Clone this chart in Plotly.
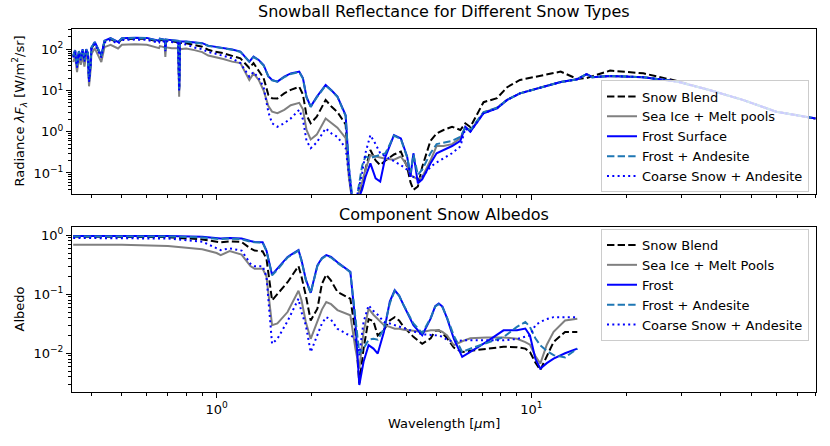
import plotly.graph_objects as go

# ---- top panel: radiance (W/m^2/sr) ----
wl_rad = [0.35, 0.355, 0.36, 0.365, 0.37, 0.375, 0.38, 0.385, 0.39, 0.393,
          0.397, 0.40, 0.41, 0.43, 0.44, 0.46, 0.486, 0.50, 0.55, 0.60,
          0.656, 0.66, 0.684, 0.687, 0.69, 0.72, 0.755, 0.76, 0.765, 0.80,
          0.85, 0.90, 0.94, 0.98, 1.05, 1.12, 1.19, 1.27, 1.31, 1.36,
          1.41, 1.46, 1.50, 1.56, 1.64, 1.72, 1.83, 1.88, 1.93, 1.99,
          2.08, 2.22, 2.32, 2.42, 2.57, 2.63, 2.70, 2.80, 2.90, 2.97,
          3.08, 3.20, 3.31, 3.44, 3.66, 3.85, 4.03, 4.13, 4.22, 4.36,
          4.50, 4.78, 5.0, 5.26, 5.6, 5.95, 6.17, 6.4, 7.05, 7.78,
          8.38, 9.2, 10.9, 12.4, 14.0, 15.0, 15.6, 17.8, 22.7, 29,
          36.8, 47, 60, 80]

rad_blend = [66, 90, 38, 85, 57, 95, 52, 95, 76, 17,
             38, 104, 142, 66, 152, 176, 142, 176, 180, 178,
             152, 170, 160, 95, 162, 155, 148, 10.5, 143, 140,
             126, 115, 97, 88, 80, 70, 60, 35, 46, 30,
             20, 7.8, 6.5, 6.4, 8.5, 10.3, 12.3, 8, 2.5, 1.6,
             2.3, 5.9, 4.0, 3.0, 1.5, 0.1, 0.02, 0.02, 0.05, 0.12,
             0.36, 0.2, 0.155, 0.2, 0.28, 0.33, 0.14, 0.06, 0.039, 0.047,
             0.14, 0.6, 0.91, 1.1, 1.32, 1.1, 1.6, 1.3, 5.2, 6.5,
             12, 18, 23, 28.6, 19, 20, 22, 30.3, 26, 17,
             10.3, 5.9, 3.06, 2.1]

rad_seaice = [49, 66, 28, 63, 42, 70, 38, 70, 56, 12.6,
              28, 77, 105, 49, 112, 128, 104, 128, 131, 128,
              106, 119, 111, 65, 111, 105, 105, 7, 100, 104,
              95, 85, 70, 66, 58, 50, 46, 18, 26, 18,
              10, 4.2, 3.06, 2.8, 3.4, 4.4, 5.0, 3.5, 1.1, 0.65,
              0.85, 2.1, 1.6, 1.25, 0.7, 0.08, 0.02, 0.025, 0.06, 0.12,
              0.27, 0.25, 0.23, 0.22, 0.21, 0.25, 0.15, 0.09, 0.08, 0.07,
              0.08, 0.2, 0.45, 0.45, 0.5, 0.7, 1.3, 1.05, 2.9, 3.8,
              5.9, 8.5, 12.3, 16, 18.7, 25, 21, 22.5, 21, 16.4,
              10.3, 5.9, 3.06, 2.1]

rad_frost = [70, 95, 40, 90, 60, 100, 55, 100, 80, 18,
             40, 110, 150, 70, 160, 185, 150, 185, 190, 188,
             160, 180, 170, 100, 172, 165, 160, 11, 155, 153,
             148, 140, 122, 116, 110, 98, 87.5, 50, 66, 55,
             41.5, 22, 18, 16.4, 21.6, 26, 28.6, 20, 7, 4.06,
             7, 13.6, 10, 7.1, 2.5, 0.14, 0.02, 0.02, 0.04, 0.08,
             0.17, 0.074, 0.062, 0.25, 0.83, 0.69, 0.25, 0.08, 0.30, 0.056,
             0.07, 0.17, 0.3, 0.36, 0.45, 0.6, 1.32, 1.0, 2.8, 3.7,
             5.9, 8.5, 12.3, 16, 18.7, 25, 21, 22.5, 21, 16.4,
             10.3, 5.9, 3.06, 2.1]

rad_frost_and = [69, 94, 40, 89, 59, 99, 54, 99, 79, 18,
                 40, 109, 148, 69, 158, 183, 148, 183, 188, 186,
                 158, 178, 168, 99, 170, 163, 158, 11, 153, 151,
                 146, 138, 120, 114, 108, 97, 86, 50, 65, 54,
                 40, 22, 17.5, 16.4, 21, 25, 28, 19.5, 6.8, 4.0,
                 6.8, 13.2, 9.8, 7.0, 2.4, 0.15, 0.025, 0.03, 0.15, 0.25,
                 0.23, 0.25, 0.27, 0.3, 0.8, 0.66, 0.24, 0.1, 0.28, 0.09,
                 0.12, 0.3, 0.5, 0.55, 0.6, 0.75, 1.25, 1.1, 3.0, 3.8,
                 5.9, 8.5, 12.3, 16, 18.7, 25, 21, 22.5, 21, 16.4,
                 10.3, 5.9, 3.06, 2.1]

rad_coarse = [63, 86, 36, 81, 54, 90, 50, 90, 72, 16,
              36, 99, 135, 63, 144, 167, 135, 167, 171, 169,
              144, 162, 152, 90, 155, 148, 142, 10, 138, 130,
              110, 100, 85, 80, 70, 60, 46, 21.6, 28, 20,
              12, 3.0, 1.6, 1.32, 1.6, 2.1, 3.4, 2.0, 0.6, 0.4,
              0.55, 1.2, 0.9, 0.75, 0.4, 0.1, 0.02, 0.03, 0.1, 0.3,
              0.83, 0.5, 0.3, 0.25, 0.19, 0.155, 0.12, 0.09, 0.08, 0.07,
              0.08, 0.14, 0.18, 0.23, 0.3, 0.44, 1.2, 1.0, 2.8, 3.7,
              5.9, 8.5, 12.3, 16, 18.7, 25, 21, 22.5, 21, 16.4,
              10.3, 5.9, 3.06, 2.1]

# ---- bottom panel: component albedos ----
wl_alb = [0.35, 0.5, 0.7, 0.9, 1.0, 1.03, 1.1, 1.2, 1.28, 1.32,
          1.40, 1.44, 1.50, 1.56, 1.68, 1.82, 1.86, 1.92, 1.99, 2.09,
          2.16, 2.23, 2.31, 2.42, 2.60, 2.66, 2.76, 2.84, 2.93, 3.04,
          3.15, 3.25, 3.40, 3.55, 3.68, 3.80, 3.93, 4.22, 4.50, 4.79,
          4.95, 5.08, 5.22, 5.40, 5.67, 6.03, 6.40, 7.20, 8.16, 9.00,
          9.57, 9.90, 10.30, 10.68, 11.20, 11.77, 12.8, 14.0]

alb_blend = [0.95, 0.95, 0.93, 0.85, 0.78, 0.76, 0.79, 0.77, 0.60, 0.55,
             0.535, 0.40, 0.079, 0.10, 0.16, 0.30, 0.2, 0.096, 0.036, 0.057,
             0.15, 0.215, 0.17, 0.11, 0.09, 0.084, 0.023, 0.0031, 0.012, 0.038,
             0.035, 0.020, 0.025, 0.036, 0.041, 0.036, 0.028, 0.019, 0.0145, 0.018,
             0.024, 0.0245, 0.022, 0.018, 0.0125, 0.0105, 0.011, 0.012, 0.0129, 0.0127,
             0.012, 0.0105, 0.007, 0.0052, 0.009, 0.0156, 0.023, 0.023]

alb_seaice = [0.69, 0.69, 0.66, 0.58, 0.50, 0.46, 0.54, 0.47, 0.30, 0.27,
              0.27, 0.20, 0.030, 0.032, 0.05, 0.115, 0.08, 0.034, 0.0176, 0.034,
              0.055, 0.074, 0.068, 0.054, 0.046, 0.044, 0.012, 0.0055, 0.023, 0.057,
              0.045, 0.038, 0.030, 0.028, 0.026, 0.026, 0.025, 0.024, 0.023, 0.0245,
              0.0245, 0.0245, 0.023, 0.02, 0.0137, 0.016, 0.018, 0.0186, 0.0186, 0.0176,
              0.0155, 0.014, 0.009, 0.0067, 0.014, 0.0231, 0.036, 0.0386]

alb_frost = [0.97, 0.98, 0.97, 0.94, 0.91, 0.88, 0.90, 0.88, 0.80, 0.77,
             0.76, 0.55, 0.215, 0.27, 0.43, 0.56, 0.38, 0.18, 0.106, 0.31,
             0.41, 0.46, 0.43, 0.35, 0.27, 0.24, 0.034, 0.0029, 0.0072, 0.0137,
             0.012, 0.0099, 0.023, 0.075, 0.117, 0.095, 0.065, 0.030, 0.0203, 0.039,
             0.063, 0.0695, 0.062, 0.039, 0.0177, 0.0087, 0.0106, 0.0156, 0.0245, 0.0245,
             0.0263, 0.020, 0.0081, 0.0055, 0.0068, 0.0081, 0.010, 0.012]

alb_frost_and = [0.95, 0.96, 0.95, 0.92, 0.89, 0.86, 0.88, 0.86, 0.78, 0.76,
                 0.75, 0.54, 0.21, 0.26, 0.42, 0.55, 0.37, 0.175, 0.104, 0.30,
                 0.40, 0.45, 0.42, 0.34, 0.26, 0.235, 0.04, 0.0099, 0.012, 0.017,
                 0.0177, 0.017, 0.026, 0.07, 0.115, 0.095, 0.065, 0.032, 0.022, 0.04,
                 0.062, 0.068, 0.06, 0.04, 0.02, 0.0105, 0.012, 0.015, 0.0188, 0.028,
                 0.034, 0.028, 0.018, 0.0137, 0.011, 0.0093, 0.0085, 0.012]

alb_coarse = [0.90, 0.90, 0.88, 0.78, 0.60, 0.56, 0.60, 0.55, 0.33, 0.30,
              0.30, 0.20, 0.0145, 0.0176, 0.035, 0.084, 0.05, 0.03, 0.0105, 0.02,
              0.032, 0.041, 0.037, 0.026, 0.021, 0.0203, 0.0177, 0.0093, 0.034, 0.065,
              0.052, 0.045, 0.034, 0.032, 0.030, 0.028, 0.026, 0.023, 0.021, 0.0205,
              0.0203, 0.020, 0.019, 0.017, 0.0156, 0.0166, 0.0166, 0.0166, 0.0166, 0.0175,
              0.0188, 0.020, 0.030, 0.034, 0.038, 0.041, 0.041, 0.041]

for s in (rad_blend, rad_seaice, rad_frost, rad_frost_and, rad_coarse):
    assert len(s) == len(wl_rad)
for s in (alb_blend, alb_seaice, alb_frost, alb_frost_and, alb_coarse):
    assert len(s) == len(wl_alb)

FONT = "DejaVu Sans"
dash = "7.4px,3.2px"
dot = "2px,3.3px"

styles = [
    ("black", dash),
    ("#808080", "solid"),
    ("#0000ff", "solid"),
    ("#1f77b4", dash),
    ("#0000ff", dot),
]

top_names = ["Snow Blend", "Sea Ice + Melt pools", "Frost Surface",
             "Frost + Andesite", "Coarse Snow + Andesite"]
bot_names = ["Snow Blend", "Sea Ice + Melt Pools", "Frost",
             "Frost + Andesite", "Coarse Snow + Andesite"]

top_series = [rad_blend, rad_seaice, rad_frost, rad_frost_and, rad_coarse]
bot_series = [alb_blend, alb_seaice, alb_frost, alb_frost_and, alb_coarse]

fig = go.Figure()

for name, ys, (col, ds) in zip(top_names, top_series, styles):
    fig.add_trace(go.Scatter(x=wl_rad, y=ys, mode="lines", name=name,
                             line=dict(color=col, dash=ds, width=2),
                             xaxis="x", yaxis="y", legend="legend"))

for name, ys, (col, ds) in zip(bot_names, bot_series, styles):
    fig.add_trace(go.Scatter(x=wl_alb, y=ys, mode="lines", name=name,
                             line=dict(color=col, dash=ds, width=2),
                             xaxis="x2", yaxis="y2", legend="legend2"))

# minor tick positions for log axes
def minors(lo, hi):
    return [m * 10 ** e for e in range(lo, hi) for m in range(2, 10)]

sup = {2: "2", 1: "1", 0: "0", -1: "\u22121", -2: "\u22122"}

common_axis = dict(type="log", showgrid=False, zeroline=False,
                   showline=True, linecolor="black", linewidth=1, mirror=True,
                   ticks="outside", ticklen=5, tickwidth=1, tickcolor="black",
                   tickfont=dict(family=FONT, size=13, color="black"))

minor_ticks = dict(ticks="outside", ticklen=3, tickcolor="black", tickwidth=0.8)

xrange_ = [-0.4597, 1.9047]

fig.update_layout(
    width=830, height=446,
    margin=dict(l=72, r=14, t=29, b=54),
    paper_bgcolor="white", plot_bgcolor="white",
    font=dict(family=FONT, size=13, color="black"),
    xaxis=dict(common_axis, domain=[0, 1], anchor="y", range=xrange_,
               showticklabels=False, tickvals=[1, 10],
               minor=dict(minor_ticks, tickvals=minors(-1, 2))),
    yaxis=dict(common_axis, domain=[0.5455, 1], anchor="x", range=[-1.51, 2.49],
               tickvals=[0.1, 1, 10, 100],
               ticktext=["10<sup>%s</sup>" % sup[e] for e in (-1, 0, 1, 2)],
               minor=dict(minor_ticks, tickvals=minors(-2, 3))),
    xaxis2=dict(common_axis, domain=[0, 1], anchor="y2", range=xrange_,
                matches="x", tickvals=[1, 10],
                ticktext=["10<sup>0</sup>", "10<sup>1</sup>"],
                minor=dict(minor_ticks, tickvals=minors(-1, 2))),
    yaxis2=dict(common_axis, domain=[0, 0.4545], anchor="x2", range=[-2.656, 0.14],
                tickvals=[0.01, 0.1, 1],
                ticktext=["10<sup>%s</sup>" % sup[e] for e in (-2, -1, 0)],
                minor=dict(minor_ticks, tickvals=minors(-3, 1))),
    legend=dict(x=0.9906, y=0.7039, xanchor="right", yanchor="middle",
                bgcolor="rgba(255,255,255,0.8)", bordercolor="#cccccc",
                borderwidth=1, font=dict(family=FONT, size=13)),
    legend2=dict(x=0.9906, y=0.2948, xanchor="right", yanchor="middle",
                 bgcolor="rgba(255,255,255,0.8)", bordercolor="#cccccc",
                 borderwidth=1, font=dict(family=FONT, size=13)),
    showlegend=True,
)

fig.add_annotation(text="Snowball Reflectance for Different Snow Types",
                   xref="paper", yref="paper", x=0.5, y=1, yshift=6,
                   xanchor="center", yanchor="bottom", showarrow=False,
                   font=dict(family=FONT, size=16))
fig.add_annotation(text="Component Snow Albedos",
                   xref="paper", yref="paper", x=0.5, y=0.4545, yshift=1,
                   xanchor="center", yanchor="bottom", showarrow=False,
                   font=dict(family=FONT, size=16))
fig.add_annotation(text="Wavelength [<i>\u03bc</i>m]",
                   xref="paper", yref="paper", x=0.5, y=0, yshift=-22,
                   xanchor="center", yanchor="top", showarrow=False,
                   font=dict(family=FONT, size=13))
fig.add_annotation(text="Radiance <i>\u03bbF<sub>\u03bb</sub></i> [W/m<sup>2</sup>/sr]",
                   xref="paper", yref="paper", x=0, xshift=-53, y=0.7727,
                   xanchor="center", yanchor="middle", textangle=-90,
                   showarrow=False, font=dict(family=FONT, size=13))
fig.add_annotation(text="Albedo",
                   xref="paper", yref="paper", x=0, xshift=-53, y=0.2273,
                   xanchor="center", yanchor="middle", textangle=-90,
                   showarrow=False, font=dict(family=FONT, size=13))

# drop the default 8px page margin so the figure sits at the window corner
fig.write_html("out.html", config={"displayModeBar": False},
               post_script="document.body.style.margin = '0px';")
